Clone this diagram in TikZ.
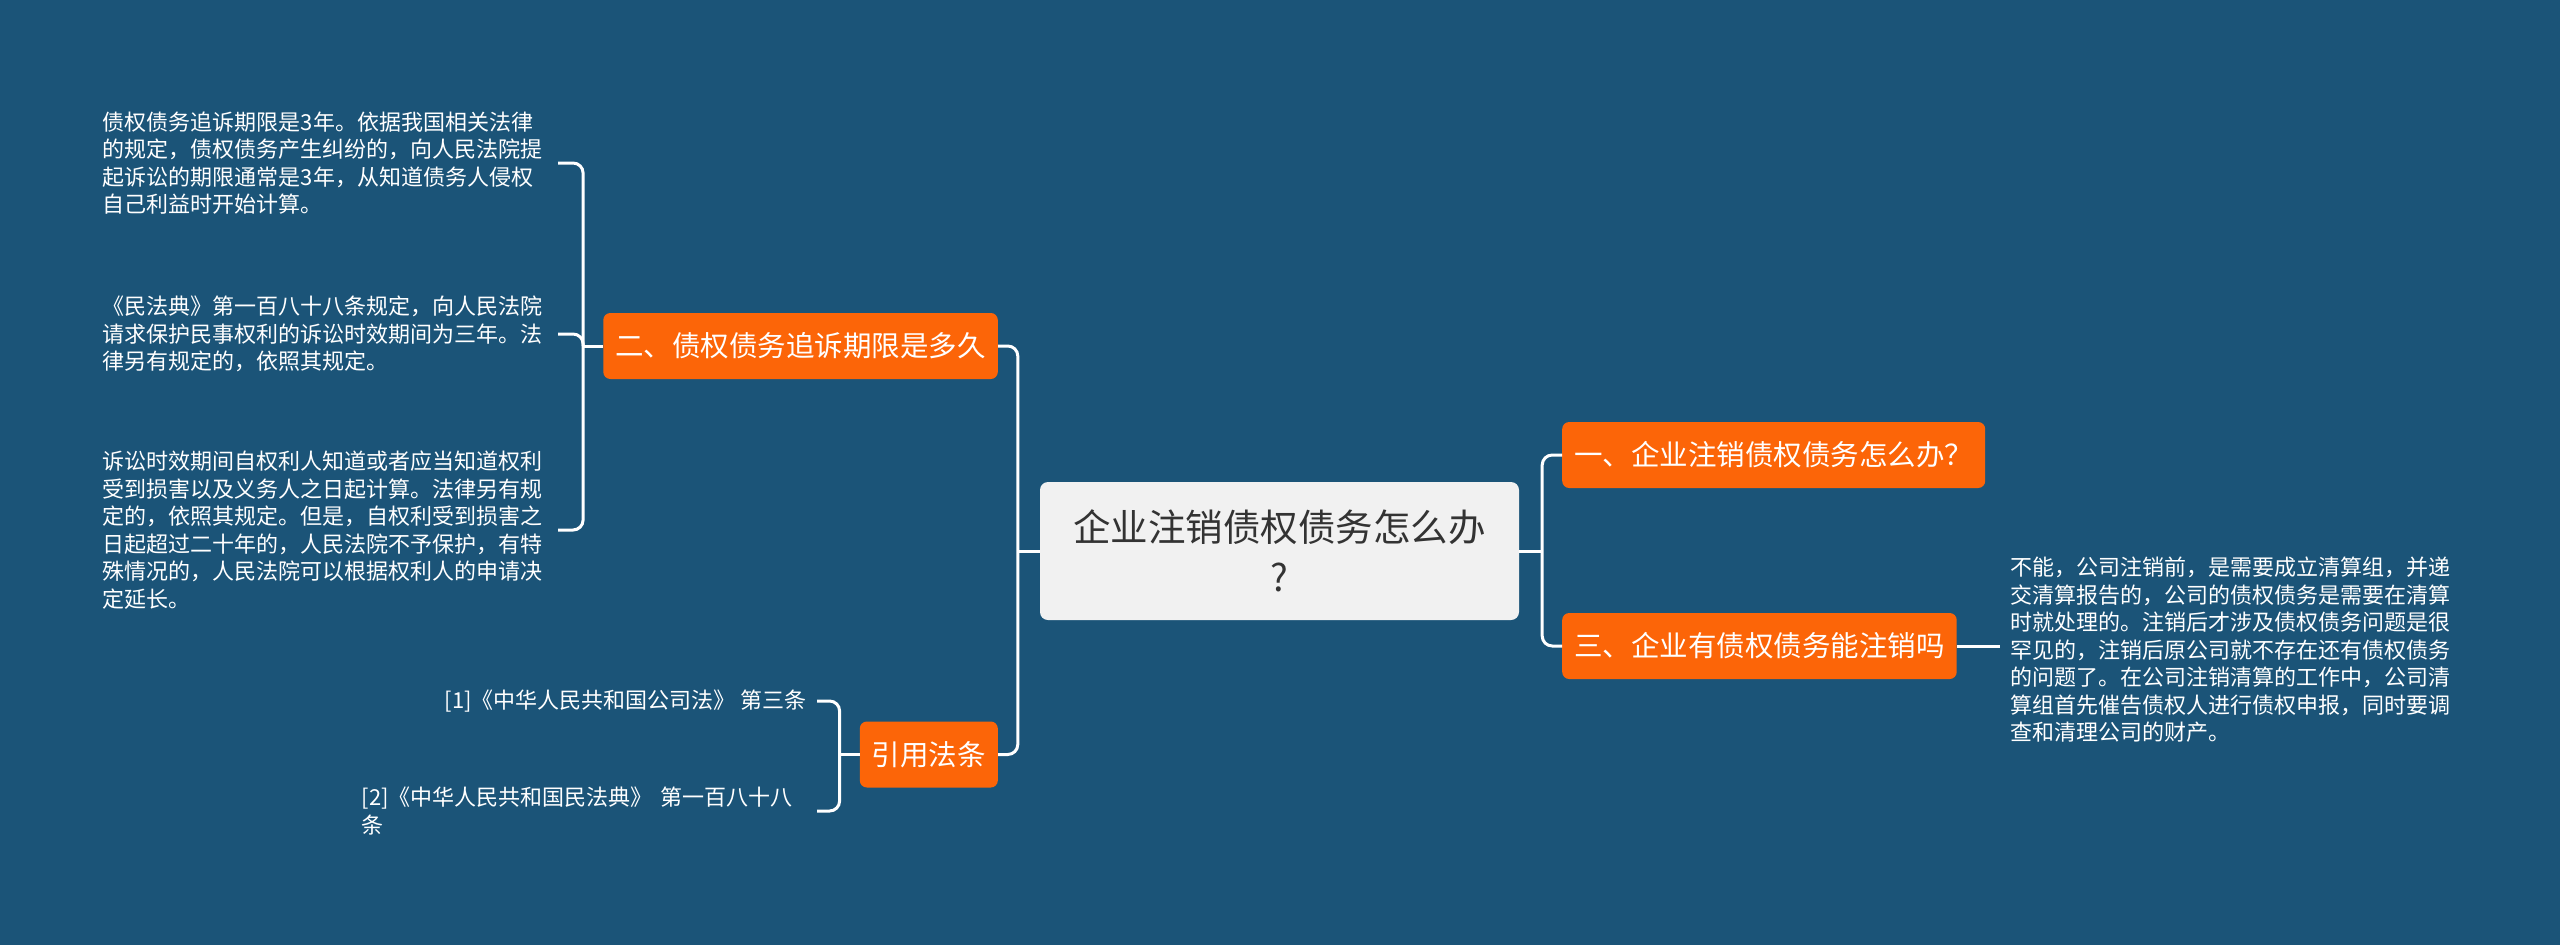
\documentclass[tikz,border=0pt]{standalone}
\usepackage{fontspec}
\setmainfont{Noto Sans CJK SC}
\usetikzlibrary{positioning}

\definecolor{bgblue}{RGB}{27,84,120}
\definecolor{maporange}{RGB}{252,101,8}
\definecolor{rootgray}{RGB}{241,241,241}
\definecolor{rootink}{RGB}{51,51,51}

\begin{document}
\begin{tikzpicture}[
			x=1pt, y=-1pt,
			rootbox/.style={
				fill=rootgray,
				rounded corners=8pt,
				minimum width=479pt,
				minimum height=138pt,
				align=center,
				text=rootink,
				font=\fontsize{37.5}{50}\selectfont
			},
			branch/.style={fill=maporange, rounded corners=7pt, minimum height=66pt, inner xsep=12pt, text=white, font=\fontsize{28.5}{34}\selectfont},
			detail/.style={text=white, align=left, inner xsep=10pt, inner ysep=0pt, font=\fontsize{22}{27.5}\selectfont},
			link/.style={draw=white, line width=3pt, rounded corners=10pt} % all connectors
			]
			
			\fill[bgblue] (0,0) rectangle (2560,945);
			\useasboundingbox (0,0) rectangle (2560,945);
			
			% -------- Root --------
			\node[rootbox] (root) at (1279.5,551) {企业注销债权债务怎么办\\?};
			\coordinate[left=22pt of root.west] (jl);
			\coordinate[right=23pt of root.east] (jr);
			
			% -------- Right side --------
			\node[branch, anchor=west] (b1) at (1562,455) {一、企业注销债权债务怎么办？};
			\node[branch, anchor=west] (b3) at (1562,646) {三、企业有债权债务能注销吗};
			\node[detail, text width=445pt, anchor=west] (t4) at (2000,650) {不能，公司注销前，是需要成立清算组，并递\\交清算报告的，公司的债权债务是需要在清算\\时就处理的。注销后才涉及债权债务问题是很\\罕见的，注销后原公司就不存在还有债权债务\\的问题了。在公司注销清算的工作中，公司清\\算组首先催告债权人进行债权申报，同时要调\\查和清理公司的财产。};
			
			\draw[link] (root.east) -- (jr);
			\draw[link] (b1.west) -| (jr) |- (b3.west);
			\draw[link] (b3.east) -- (b3.east -| t4.west);
			
			% -------- Left side: 二 --------
			\node[branch, anchor=east] (b2) at (998,346) {二、债权债务追诉期限是多久};
			\coordinate[left=20pt of b2.west] (j2);
			\node[detail, text width=445pt, anchor=east] (t1) at (558,163) {债权债务追诉期限是3年。依据我国相关法律\\的规定，债权债务产生纠纷的，向人民法院提\\起诉讼的期限通常是3年，从知道债务人侵权\\自己利益时开始计算。};
			\node[detail, text width=445pt, anchor=east] (t2) at (558,334) {《民法典》第一百八十八条规定，向人民法院\\请求保护民事权利的诉讼时效期间为三年。法\\律另有规定的，依照其规定。};
			\node[detail, text width=445pt, anchor=east] (t3) at (558,530) {诉讼时效期间自权利人知道或者应当知道权利\\受到损害以及义务人之日起计算。法律另有规\\定的，依照其规定。但是，自权利受到损害之\\日起超过二十年的，人民法院不予保护，有特\\殊情况的，人民法院可以根据权利人的申请决\\定延长。};
			
			\draw[link] (b2.west) -- (j2);
			\draw[link] (t1.east) -| (j2) |- (t3.east);
			\draw[link] (t2.east) -| (j2);
			
			% -------- Left side: 引用法条 --------
			\node[branch, anchor=east] (b4) at (998,754.5) {引用法条};
			\coordinate[left=20pt of b4.west] (j4);
			\node[detail, anchor=east] (r1) at (817,701) {[1]《中华人民共和国公司法》 第三条};
			\node[detail, text width=445pt, anchor=east] (r2) at (817,811) {[2]《中华人民共和国民法典》 第一百八十八\\条};
			
			\draw[link] (b4.west) -- (j4);
			\draw[link] (r1.east) -| (j4) |- (r2.east);
			
			% -------- Root links --------
			\draw[link] (root.west) -- (jl);
			\draw[link] (b2.east) -| (jl) |- (b4.east);
			
	\end{tikzpicture}
\end{document}
